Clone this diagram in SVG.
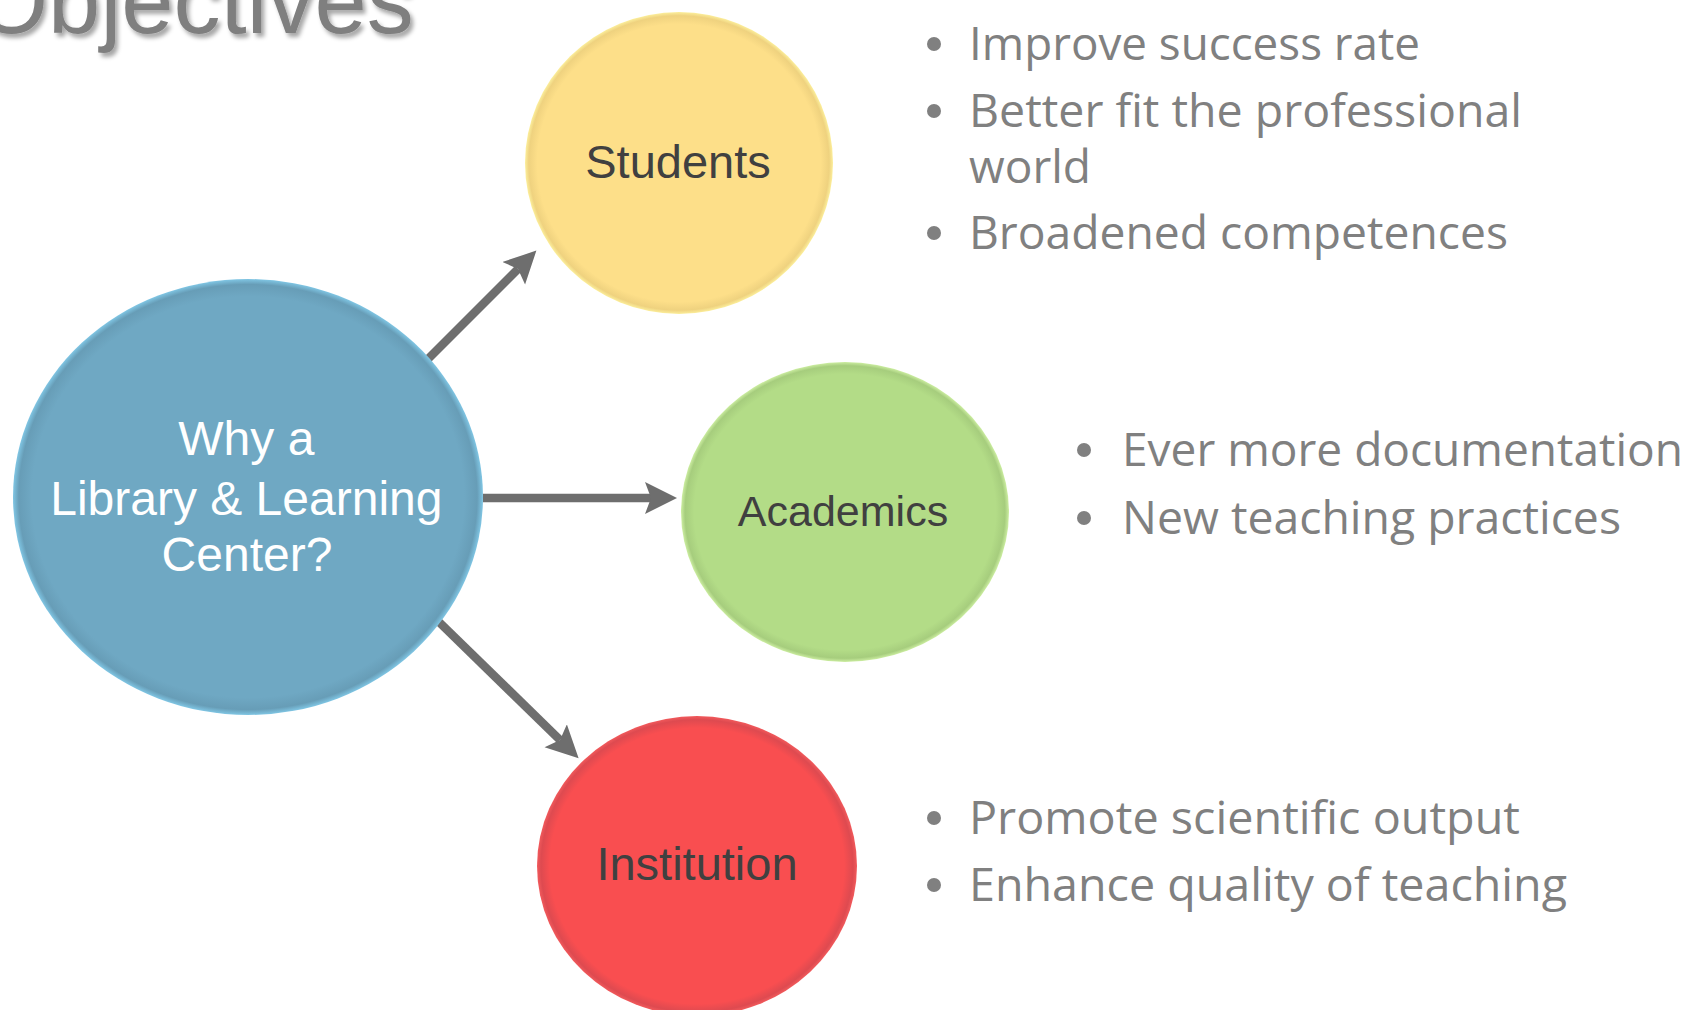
<svg xmlns="http://www.w3.org/2000/svg" width="1689" height="1010" viewBox="0 0 1689 1010">
  <defs>
    <style>
      .title { font-family: "Liberation Sans", Arial, sans-serif; font-size: 94px; fill: #7f7f7f; }
      .node-label { font-family: "Liberation Sans", Arial, sans-serif; text-anchor: middle; }
      .dark { fill: #404040; }
      .white { fill: #ffffff; }
      .bullet-text { font-family: "Open Sans", "Noto Sans", sans-serif; font-size: 46px; fill: #808080; }
      .bullet { fill: #808080; }
      .conn { stroke: #6e6e6e; stroke-width: 8.5; fill: none; }
    </style>
    <filter id="titleShadow" x="-10%" y="-30%" width="120%" height="160%">
      <feDropShadow dx="3" dy="4" stdDeviation="2" flood-color="#000" flood-opacity="0.35"/>
    </filter>
    <radialGradient id="gBlue" cx="50%" cy="50%" r="50%">
      <stop offset="0" stop-color="#6fa8c3"/>
      <stop offset="0.92" stop-color="#6fa8c3"/>
      <stop offset="0.975" stop-color="#679db7"/>
      <stop offset="1" stop-color="#80c6e4"/>
    </radialGradient>
    <radialGradient id="gYellow" cx="50%" cy="50%" r="50%">
      <stop offset="0" stop-color="#fddf89"/>
      <stop offset="0.92" stop-color="#fddf89"/>
      <stop offset="0.975" stop-color="#efd27f"/>
      <stop offset="1" stop-color="#fcef9c"/>
    </radialGradient>
    <radialGradient id="gGreen" cx="50%" cy="50%" r="50%">
      <stop offset="0" stop-color="#b3dc87"/>
      <stop offset="0.92" stop-color="#b3dc87"/>
      <stop offset="0.975" stop-color="#a6cd7d"/>
      <stop offset="1" stop-color="#cdeea2"/>
    </radialGradient>
    <radialGradient id="gRed" cx="50%" cy="50%" r="50%">
      <stop offset="0" stop-color="#f94e50"/>
      <stop offset="0.92" stop-color="#f94e50"/>
      <stop offset="0.975" stop-color="#de4a50"/>
      <stop offset="1" stop-color="#f25a5c"/>
    </radialGradient>
    <marker id="arrow" markerUnits="userSpaceOnUse" markerWidth="34" markerHeight="34" refX="6" refY="16" orient="auto">
      <path d="M0,0 L32,16 L0,32 L6,16 Z" fill="#6e6e6e"/>
    </marker>
  </defs>

  <rect x="0" y="0" width="1689" height="1010" fill="#ffffff"/>

  <text class="title" x="-25" y="33" filter="url(#titleShadow)">Objectives</text>

  <g id="connectors">
    <line class="conn" x1="426" y1="361" x2="518" y2="269" marker-end="url(#arrow)"/>
    <line class="conn" x1="483" y1="498" x2="651" y2="498" marker-end="url(#arrow)"/>
    <line class="conn" x1="439" y1="622" x2="560" y2="740" marker-end="url(#arrow)"/>
  </g>

  <g id="node-center">
    <ellipse cx="248" cy="497" rx="235" ry="218" fill="url(#gBlue)"/>
    <text class="node-label white" font-size="48">
      <tspan x="253" y="455">Why a</tspan>
      <tspan x="253" y="515">Library &amp; Learning</tspan>
      <tspan x="247" y="571">Center?</tspan>
    </text>
  </g>

  <g id="node-students">
    <ellipse cx="679" cy="163" rx="154" ry="151" fill="url(#gYellow)"/>
    <text class="node-label dark" x="678" y="178" font-size="47">Students</text>
  </g>

  <g id="node-academics">
    <ellipse cx="845" cy="512" rx="164" ry="150" fill="url(#gGreen)"/>
    <text class="node-label dark" x="843" y="526" font-size="43">Academics</text>
  </g>

  <g id="node-institution">
    <ellipse cx="697" cy="866" rx="160" ry="150" fill="url(#gRed)"/>
    <text class="node-label dark" x="697" y="880" font-size="47">Institution</text>
  </g>

  <g id="list-students">
    <circle class="bullet" cx="934" cy="44" r="7"/>
    <text class="bullet-text" x="969" y="60" textLength="451" lengthAdjust="spacingAndGlyphs">Improve success rate</text>
    <circle class="bullet" cx="934" cy="111" r="7"/>
    <text class="bullet-text" x="969" y="127" textLength="553" lengthAdjust="spacingAndGlyphs">Better fit the professional</text>
    <text class="bullet-text" x="969" y="183" textLength="122" lengthAdjust="spacingAndGlyphs">world</text>
    <circle class="bullet" cx="934" cy="233" r="7"/>
    <text class="bullet-text" x="969" y="249" textLength="539" lengthAdjust="spacingAndGlyphs">Broadened competences</text>
  </g>

  <g id="list-academics">
    <circle class="bullet" cx="1084" cy="450" r="7"/>
    <text class="bullet-text" x="1122" y="466" textLength="561" lengthAdjust="spacingAndGlyphs">Ever more documentation</text>
    <circle class="bullet" cx="1084" cy="518" r="7"/>
    <text class="bullet-text" x="1122" y="534" textLength="499" lengthAdjust="spacingAndGlyphs">New teaching practices</text>
  </g>

  <g id="list-institution">
    <circle class="bullet" cx="934" cy="818" r="7"/>
    <text class="bullet-text" x="969" y="834" textLength="551" lengthAdjust="spacingAndGlyphs">Promote scientific output</text>
    <circle class="bullet" cx="934" cy="885" r="7"/>
    <text class="bullet-text" x="969" y="901" textLength="598" lengthAdjust="spacingAndGlyphs">Enhance quality of teaching</text>
  </g>
</svg>
